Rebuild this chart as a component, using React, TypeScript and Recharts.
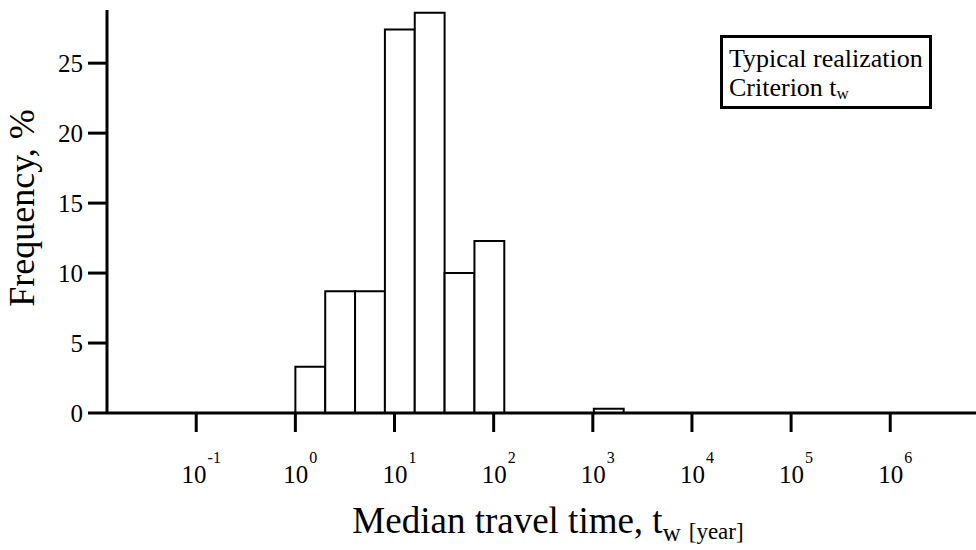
import { ComposedChart, XAxis, YAxis, ReferenceArea, Legend } from "recharts";

// histogram bins (years), doubling widths
const binEdges = [1, 2, 4, 8, 16, 32, 64, 128, 256, 512, 1024, 2048];
const frequencies = [3.3, 8.7, 8.7, 27.4, 28.6, 10.0, 12.3, 0, 0, 0, 0.3];

const decadeTicks = [-1, 0, 1, 2, 3, 4, 5, 6];
const freqTicks = [0, 5, 10, 15, 20, 25];

const legendLines = [
  { text: "Typical realization", sub: "" },
  { text: "Criterion t", sub: "w" },
];

const FONT = '"Liberation Serif", "Times New Roman", serif';

const bins = frequencies
  .map((v, i) => ({
    lo: Math.log10(binEdges[i]),
    hi: Math.log10(binEdges[i + 1]),
    v,
  }))
  .filter((b) => b.v > 0);

function DecadeTick({ x, y, payload }: any) {
  return (
    <text x={x + 5} y={y + 49} textAnchor="middle" fontFamily={FONT} fontSize={25} fill="#000">
      10
      <tspan dx={1} dy={-20} fontSize={16}>
        {payload.value}
      </tspan>
    </text>
  );
}

const renderXTitle = () => (
  <text x={548} y={533} textAnchor="middle" fontFamily={FONT} fontSize={37} fill="#000">
    Median travel time, t
    <tspan fontSize={25} dy={8}>
      w
    </tspan>
    <tspan fontSize={23} dx={8} dy={-2}>
      [year]
    </tspan>
  </text>
);

const renderYTitle = () => (
  <text
    transform="translate(34,208) rotate(-90)"
    textAnchor="middle"
    fontFamily={FONT}
    fontSize={36}
    fill="#000"
  >
    Frequency, %
  </text>
);

const renderLegend = () => (
  <div
    style={{
      boxSizing: "border-box",
      width: 212,
      height: 74,
      border: "3px solid #000",
      padding: "6px 6px 4px 6px",
      fontFamily: FONT,
      fontSize: 26,
      lineHeight: "29px",
      color: "#000",
      background: "#fff",
      whiteSpace: "nowrap",
    }}
  >
    {legendLines.map((l) => (
      <div key={l.text}>
        {l.text}
        {l.sub && (
          <span style={{ fontSize: 17, position: "relative", top: 3 }}>{l.sub}</span>
        )}
      </div>
    ))}
  </div>
);

export default function App() {
  return (
    <div style={{ position: "absolute", left: 0, top: 0, background: "#fff" }}>
      <ComposedChart
        width={976}
        height={550}
        data={bins}
        margin={{ top: 10, right: 0, bottom: 0, left: 0 }}
      >
        {bins.map((b, i) => (
          <ReferenceArea
            key={`bin-${i}`}
            x1={b.lo}
            x2={b.hi}
            y1={0}
            y2={b.v}
            fill="#fff"
            fillOpacity={1}
            stroke="#000"
            strokeWidth={2}
            ifOverflow="visible"
          />
        ))}
        <XAxis
          type="number"
          dataKey="lo"
          domain={[-1.9, 6.865]}
          ticks={decadeTicks}
          allowDataOverflow
          height={137}
          tickSize={19}
          axisLine={{ stroke: "#000", strokeWidth: 3 }}
          tickLine={{ stroke: "#000", strokeWidth: 3 }}
          tick={<DecadeTick />}
          label={{ content: renderXTitle }}
        />
        <YAxis
          type="number"
          domain={[0, 28.8]}
          ticks={freqTicks}
          allowDataOverflow
          width={107}
          tickSize={19}
          tickMargin={5}
          axisLine={{ stroke: "#000", strokeWidth: 3 }}
          tickLine={{ stroke: "#000", strokeWidth: 3 }}
          tick={{ fill: "#000", fontSize: 25, fontFamily: FONT }}
          label={{ content: renderYTitle }}
        />
        <Legend
          layout="horizontal"
          verticalAlign="middle"
          align="center"
          wrapperStyle={{ left: 720, top: 35, width: 212, height: 74 }}
          content={renderLegend}
        />
      </ComposedChart>
    </div>
  );
}
